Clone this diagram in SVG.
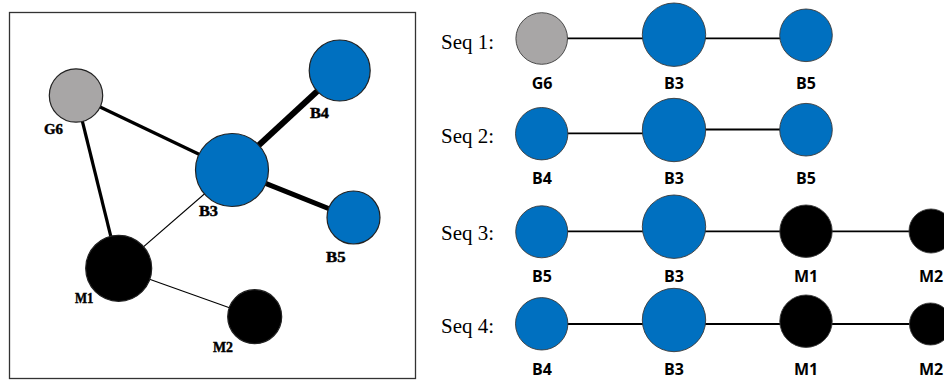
<svg xmlns="http://www.w3.org/2000/svg" width="944" height="380" viewBox="0 0 944 380">
  <style>
    .frame { fill: #ffffff; stroke: #333333; stroke-width: 1.3; }
    .edge { stroke: #000000; stroke-linecap: butt; fill: none; }
    .w1 { stroke-width: 1.1; }
    .w3 { stroke-width: 3.2; }
    .w5 { stroke-width: 5; }
    .w6 { stroke-width: 6; }
    .link { stroke: #000000; stroke-width: 1.8; }
    .node { stroke: #222222; stroke-width: 1.2; }
    .snode { stroke: #3a3a3a; stroke-width: 0.9; }
    .blue { fill: #0070C0; }
    .gray { fill: #A8A6A6; }
    .black { fill: #000000; }
    .glabel { font-family: "Liberation Serif", "DejaVu Serif", serif; font-weight: bold; font-size: 14.5px; fill: #000000; stroke: #000000; stroke-width: 0.45; }
    .slabel { font-family: "Open Sans", "Liberation Sans", sans-serif; font-weight: bold; font-size: 16px; fill: #000000; text-anchor: middle; }
    .seq { font-family: "Liberation Serif", "Times New Roman", serif; font-size: 21px; fill: #000000; }
  </style>

  <rect width="944" height="380" fill="#ffffff"/>

  <!-- network panel -->
  <rect class="frame" x="9.5" y="12.5" width="406" height="366"/>

  <g id="connectors">
    <line class="edge w3" x1="76" y1="95.5" x2="232" y2="170"/>
    <line class="edge w3" x1="76" y1="95.5" x2="118.7" y2="268.3"/>
    <line class="edge w6" x1="232" y1="170" x2="339.7" y2="70.5"/>
    <line class="edge w5" x1="232" y1="170" x2="353.5" y2="218.5"/>
    <line class="edge w1" x1="232" y1="170" x2="118.7" y2="268.3"/>
    <line class="edge w1" x1="118.7" y1="268.3" x2="254.7" y2="316.7"/>

    <!-- sequence chains -->
    <line class="link" x1="542" y1="38.3" x2="806" y2="38.3"/>
    <line class="link" x1="542" y1="133.3" x2="674" y2="133.3"/>
    <line class="link" x1="674" y1="129.5" x2="806" y2="129.5"/>
    <line class="link" x1="542" y1="231.3" x2="944" y2="231.3"/>
    <line class="link" x1="542" y1="324" x2="944" y2="324"/>
  </g>

  <g id="net-G6">
    <circle class="node gray" cx="76" cy="95.5" r="26.7"/>
    <text class="glabel" x="44" y="134" textLength="19" lengthAdjust="spacingAndGlyphs">G6</text>
  </g>
  <g id="net-B3">
    <circle class="node blue" cx="232" cy="170" r="36.5"/>
    <text class="glabel" x="199" y="216" textLength="19" lengthAdjust="spacingAndGlyphs">B3</text>
  </g>
  <g id="net-B4">
    <circle class="node blue" cx="339.7" cy="70.5" r="30.5"/>
    <text class="glabel" x="310" y="118" textLength="19" lengthAdjust="spacingAndGlyphs">B4</text>
  </g>
  <g id="net-B5">
    <circle class="node blue" cx="353.5" cy="217.5" r="26.5"/>
    <text class="glabel" x="326" y="262" textLength="19.5" lengthAdjust="spacingAndGlyphs">B5</text>
  </g>
  <g id="net-M1">
    <circle class="node black" cx="118.7" cy="268.3" r="33"/>
    <text class="glabel" x="75" y="302.5" textLength="18.5" lengthAdjust="spacingAndGlyphs">M1</text>
  </g>
  <g id="net-M2">
    <circle class="node black" cx="254.7" cy="316.7" r="27"/>
    <text class="glabel" x="213" y="352" textLength="20" lengthAdjust="spacingAndGlyphs">M2</text>
  </g>

  <!-- Seq 1 -->
  <g id="seq1">
    <text class="seq" x="441" y="48.5">Seq 1:</text>
    <g id="seq1-G6">
      <circle class="snode gray" cx="541.7" cy="38.5" r="25.8"/>
      <text class="slabel" x="542" y="89">G6</text>
    </g>
    <g id="seq1-B3">
      <circle class="snode blue" cx="674" cy="34.7" r="31.7"/>
      <text class="slabel" x="674" y="89">B3</text>
    </g>
    <g id="seq1-B5">
      <circle class="snode blue" cx="806" cy="35.3" r="26.3"/>
      <text class="slabel" x="806" y="89">B5</text>
    </g>
  </g>

  <!-- Seq 2 -->
  <g id="seq2">
    <text class="seq" x="441" y="142.7">Seq 2:</text>
    <g id="seq2-B4">
      <circle class="snode blue" cx="541.7" cy="133.7" r="26.2"/>
      <text class="slabel" x="542" y="184">B4</text>
    </g>
    <g id="seq2-B3">
      <circle class="snode blue" cx="674" cy="130" r="31.7"/>
      <text class="slabel" x="674" y="184">B3</text>
    </g>
    <g id="seq2-B5">
      <circle class="snode blue" cx="806" cy="129.7" r="26.3"/>
      <text class="slabel" x="806" y="184">B5</text>
    </g>
  </g>

  <!-- Seq 3 -->
  <g id="seq3">
    <text class="seq" x="441" y="240">Seq 3:</text>
    <g id="seq3-B5">
      <circle class="snode blue" cx="541.7" cy="231.8" r="26"/>
      <text class="slabel" x="542" y="281.5">B5</text>
    </g>
    <g id="seq3-B3">
      <circle class="snode blue" cx="674" cy="226.7" r="31.7"/>
      <text class="slabel" x="674" y="281.5">B3</text>
    </g>
    <g id="seq3-M1">
      <circle class="snode black" cx="806" cy="231.2" r="26.2"/>
      <text class="slabel" x="806" y="281.5">M1</text>
    </g>
    <g id="seq3-M2">
      <circle class="snode black" cx="931" cy="231" r="22"/>
      <text class="slabel" x="931" y="281.5">M2</text>
    </g>
  </g>

  <!-- Seq 4 -->
  <g id="seq4">
    <text class="seq" x="441" y="333">Seq 4:</text>
    <g id="seq4-B4">
      <circle class="snode blue" cx="541.7" cy="323.8" r="26.2"/>
      <text class="slabel" x="542" y="375">B4</text>
    </g>
    <g id="seq4-B3">
      <circle class="snode blue" cx="674" cy="320" r="31.7"/>
      <text class="slabel" x="674" y="375">B3</text>
    </g>
    <g id="seq4-M1">
      <circle class="snode black" cx="806" cy="321.2" r="26.2"/>
      <text class="slabel" x="806" y="375">M1</text>
    </g>
    <g id="seq4-M2">
      <circle class="snode black" cx="930.5" cy="324" r="21"/>
      <text class="slabel" x="931" y="375">M2</text>
    </g>
  </g>
</svg>
